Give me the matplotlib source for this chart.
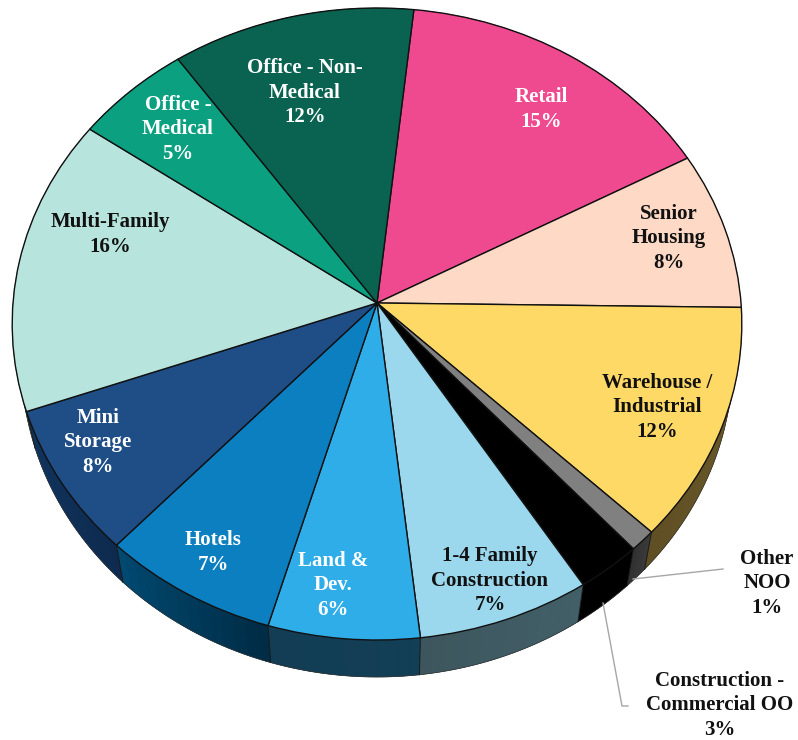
import numpy as np
import matplotlib
matplotlib.use("Agg")
import matplotlib.pyplot as plt
from matplotlib.path import Path
from matplotlib.transforms import Transform
from matplotlib.colors import to_rgb

# ---- data (clockwise, starting from Retail) ----
categories = ["Retail", "Senior\nHousing", "Warehouse /\nIndustrial", "Other\nNOO",
              "Construction -\nCommercial OO", "1-4 Family\nConstruction", "Land &\nDev.",
              "Hotels", "Mini\nStorage", "Multi-Family", "Office -\nMedical", "Office - Non-\nMedical"]
values = [15.4, 8.1, 12.0, 1.1, 2.7, 7.2, 6.3, 7.4, 7.6, 15.2, 5.5, 11.5]
shown = [15, 8, 12, 1, 3, 7, 6, 7, 8, 16, 5, 12]

top_colors = ["#EF4A90", "#FDD9C6", "#FFD966", "#808080", "#000000", "#9BD8EE",
              "#2FADE8", "#0C7FC0", "#1F4E87", "#B7E5DD", "#0BA180", "#0A6350"]
wall_start = ["#7A2548", "#7F6D63", "#6E5B2A", "#3C3C3C", "#000000", "#425F68",
              "#133F56", "#002B44", "#0E2A4E", "#5B726E", "#055040", "#053128"]
wall_end = ["#7A2548", "#7F6D63", "#5F4F24", "#303030", "#000000", "#3D565E",
            "#123D54", "#014A72", "#10355F", "#5B726E", "#055040", "#053128"]
text_colors = ["white", "#111111", "#111111", "#111111", "#111111", "#111111",
               "white", "white", "white", "#111111", "white", "white"]
label_xy = [(541, 109.5), (669, 238.5), (657, 407.5), (767, 583.5), (720, 705.5), (490, 580.5),
            (333, 585.5), (213, 552.5), (98, 442.5), (110, 234.5), (178, 129.5), (305, 92.5)]

START_DEG = 6.2            # clockwise from the top of the disc
APEX = (377.0, 303.0)
A, B, K = 364.0, 314.6, 0.0665
DEPTH, SHRINK = 37.0, 0.975


def project(u, v, depth=False):
    w = 1 + K * v
    x = A * u / w
    y = B * v / w
    if depth:
        return APEX[0] + x * SHRINK, APEX[1] - y + DEPTH
    return APEX[0] + x, APEX[1] - y


class DiscTransform(Transform):
    """Tilted-disc perspective applied to the unit pie."""
    input_dims = output_dims = 2
    has_inverse = False
    is_affine = False

    def transform_non_affine(self, pts):
        pts = np.asarray(pts, dtype=float)
        x, y = project(pts[:, 0], pts[:, 1])
        return np.column_stack([x, y])

    def transform_path_non_affine(self, path):
        return Path(self.transform_non_affine(path.vertices), path.codes)


fig = plt.figure(figsize=(7.98, 7.40), dpi=100)
ax = fig.add_axes([0, 0, 1, 1])

wedges, _ = ax.pie(values, startangle=90 - START_DEG, counterclock=False, colors=top_colors,
                   radius=1.0, wedgeprops=dict(edgecolor="#111111", linewidth=1.0, zorder=5))
ax.set_aspect("auto")
ax.set_xlim(0, 798)
ax.set_ylim(740, 0)
ax.axis("off")

disc = DiscTransform()
for w in wedges:
    w.set_transform(disc + ax.transData)
    w.set_joinstyle("round")

# side wall of the disc, from the same angles as the wedges
edges = START_DEG + np.concatenate([[0], np.cumsum(values)]) / np.sum(values) * 360
for i in range(len(values)):
    t0, t1 = edges[i], edges[i + 1]
    c0, c1 = np.array(to_rgb(wall_start[i])), np.array(to_rgb(wall_end[i]))
    th = np.radians(np.linspace(t0, t1, 60))
    u, v = np.sin(th), np.cos(th)
    xa, ya = project(u, v)
    xb, yb = project(u, v, depth=True)
    # base polygon hides the seams of the gradient strips
    ax.fill(np.r_[xa, xb[::-1]], np.r_[ya, yb[::-1]], color=(c0 + c1) / 2, lw=0.3, zorder=2)
    n = 14
    steps = np.linspace(t0, t1, n + 1)
    for j in range(n):
        th = np.radians(np.linspace(steps[j], steps[j + 1], 6))
        u, v = np.sin(th), np.cos(th)
        xa, ya = project(u, v)
        xb, yb = project(u, v, depth=True)
        ax.fill(np.r_[xa, xb[::-1]], np.r_[ya, yb[::-1]],
                facecolor=c0 + (c1 - c0) * (j + 0.5) / n, edgecolor="none", zorder=2.1)
    th = np.radians(np.linspace(t0, t1, 40))
    xb, yb = project(np.sin(th), np.cos(th), depth=True)
    ax.plot(xb, yb, color="#333333", lw=0.5, zorder=3)
    if 90 < t0 % 360 < 270:
        x0, y0 = project(np.sin(np.radians(t0)), np.cos(np.radians(t0)))
        x1, y1 = project(np.sin(np.radians(t0)), np.cos(np.radians(t0)), depth=True)
        ax.plot([x0, x1], [y0, y1], color="#1a1a1a", lw=0.7, zorder=3)

# leader lines
ax.plot([633, 723], [579, 569], color="#A6A6A6", lw=1.0, zorder=4)
ax.plot([603, 622, 628], [603, 706, 706], color="#A6A6A6", lw=1.0, zorder=4)

for name, pct, (x, y), col in zip(categories, shown, label_xy, text_colors):
    ax.text(x, y, f"{name}\n{pct}%", ha="center", va="center", ma="center", color=col,
            family="Liberation Serif", weight="bold", fontsize=15.0, linespacing=1.3, zorder=6)

fig.savefig("out.png", dpi=100)
